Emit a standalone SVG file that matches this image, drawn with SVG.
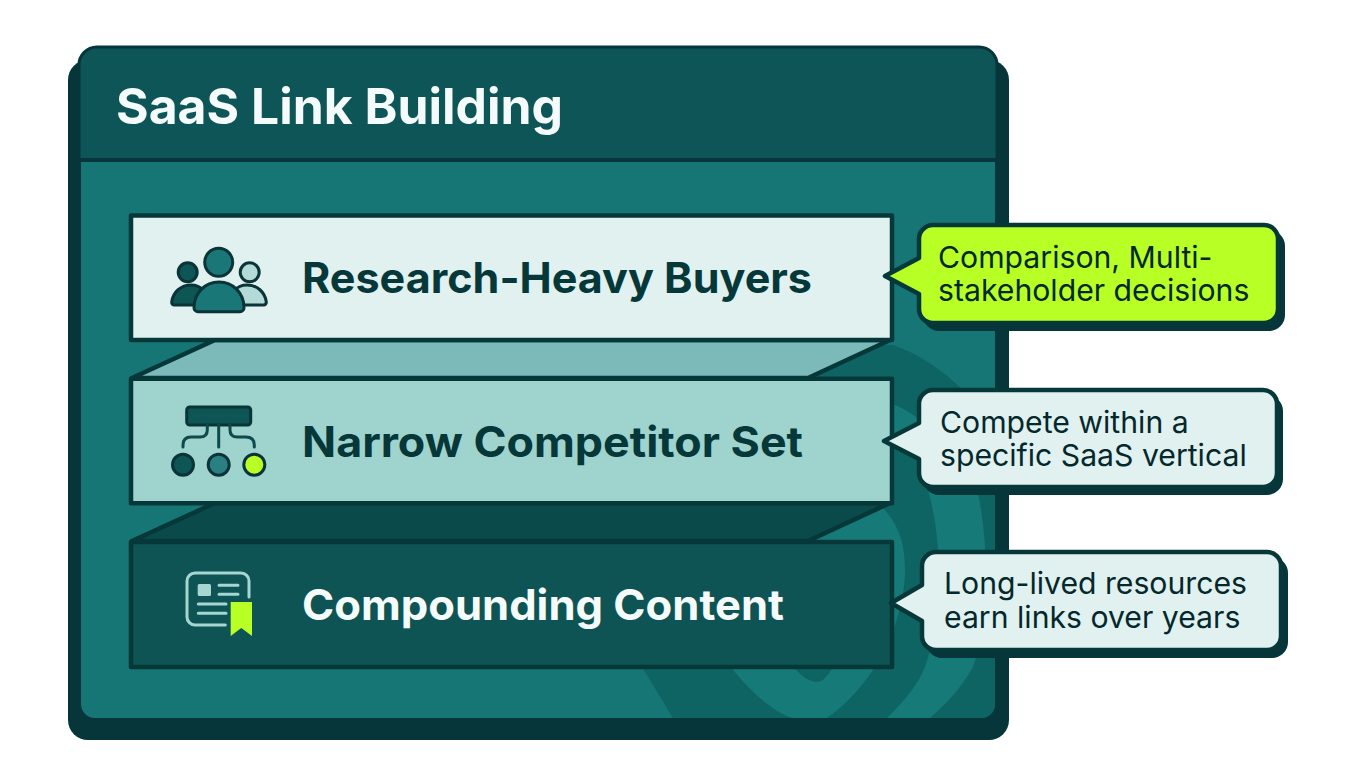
<svg xmlns="http://www.w3.org/2000/svg" width="1360" height="784" viewBox="0 0 1360 784">
<style>
text{font-family:Inter,"Liberation Sans",sans-serif}
.t{font-size:49.500px;font-weight:700;fill:#f4fbfa}
.l{font-size:42.500px;font-weight:700}
.c{font-size:30.200px;font-weight:400;fill:#04282b}
.s{stroke:#06383a;stroke-width:4.500;stroke-linejoin:round}
.i{stroke:#0a3437;stroke-width:3;stroke-linejoin:round}
.w{fill:none;stroke:#0c4a4c;stroke-width:3;stroke-linecap:round}
.p{stroke:#a5d6d2;stroke-width:3;fill:none;stroke-linecap:round}
.sh{fill:#06363a;stroke:#06363a;stroke-width:4;stroke-linejoin:round}
.dk{fill:#0e6463}
.lt{fill:#167a78}
</style>
<defs><clipPath id="b"><path d="M81 160H995V704a14 14 0 0 1-14 14H95a14 14 0 0 1-14-14Z"/></clipPath></defs>
<rect width="1360" height="784" fill="#fff"/>
<g id="panel">
<rect x="68" y="60" width="941" height="680" rx="20" fill="#06363a"/>
<path d="M79 66a18 18 0 0 1 18-19H979a18 18 0 0 1 18 19V160H79Z" fill="#0d5556" stroke="#06363a" stroke-width="3"/>
<path d="M81 160H995V704a14 14 0 0 1-14 14H95a14 14 0 0 1-14-14Z" fill="#157675"/>
<g clip-path="url(#b)">
<path class="dk" d="M893 345C930 358 965 385 1000 435V740H690L673 718 642 667 620 600V345Z"/>
<path class="lt" d="M925 480H975C990 540 990 620 973 667 960 690 945 705 930 718L925 730H880L887 718C905 700 918 685 925 667 942 620 945 540 925 480Z"/>
<path class="lt" d="M700 620C715 650 755 705 792 718L800 735H820L827 718C845 705 860 690 875 667 893 640 905 600 905 570 905 545 900 525 880 505H700Z"/>
<path class="dk" d="M780 640C790 668 805 682 817 682 825 682 835 668 845 640Z"/>
<path class="lt" d="M885 402C900 405 915 415 925 425V465C915 450 900 440 885 432Z"/>
</g>
<path d="M80 160H996" stroke="#06363a" stroke-width="4"/>
<text class="t" x="116" y="124" textLength="447" lengthAdjust="spacingAndGlyphs">SaaS Link Building</text>
</g>
<g id="connectors">
<path class="s" d="M215 340H890L808 378H132Z" fill="#7bbab8"/>
<path class="s" d="M215 503H890L808 541H132Z" fill="#0b4a4b"/>
</g>
<g id="bar1">
<rect class="s" x="131" y="215.600" width="761" height="124.400" fill="#e0f1f0"/>
<circle class="i" cx="218.700" cy="262.300" r="14" fill="#1a7777"/>
<circle class="i" cx="187.700" cy="272.300" r="9.500" fill="#0e5556"/>
<circle class="i" cx="249.700" cy="272.300" r="9.500" fill="#b3dad7"/>
<path class="i" d="M174 305a3 3 0 0 1-2.300-3C173 292 181 285 191 285c10 0 17 7 19 20Z" fill="#0e5556"/>
<path class="i" d="M264 305a3 3 0 0 0 2.300-3C265 292 257 285 247 285c-10 0-17 7-19 20Z" fill="#b3dad7"/>
<path class="i" d="M198 311.700a4 4 0 0 1-4-4C194 293 205 282 219 282s25 11 25 25.700a4 4 0 0 1-4 4Z" fill="#1a7777"/>
<text class="l" x="302" y="293" fill="#06383a" textLength="510" lengthAdjust="spacingAndGlyphs">Research-Heavy Buyers</text>
</g>
<g id="bar2">
<rect class="s" x="131" y="378.700" width="761" height="124.600" fill="#9fd3ce"/>
<rect class="i" x="186.700" y="407" width="64" height="18" rx="3" fill="#0e5556"/>
<path class="w" d="M218.700 425V447M207.300 425V430Q207.300 437 200 437H191Q183 437 183 445V447M230 425V430Q230 437 237.300 437H246Q254.300 437 254.300 445V447"/>
<circle class="i" cx="183" cy="464.700" r="10.500" fill="#0e5556"/>
<circle class="i" cx="218.700" cy="464.700" r="10.500" fill="#2a7f82"/>
<circle class="i" cx="254.300" cy="464.700" r="10.500" fill="#b8ff26"/>
<text class="l" x="302" y="457" fill="#06383a" textLength="501" lengthAdjust="spacingAndGlyphs">Narrow Competitor Set</text>
</g>
<g id="bar3">
<rect class="s" x="131" y="542" width="761" height="125" fill="#0e5454"/>
<path class="p" d="M225.300 625H195a8 8 0 0 1-8-8V581a8 8 0 0 1 8-8H241a8 8 0 0 1 8 8V597"/>
<rect x="197.700" y="584" width="13.300" height="12" rx="1.500" fill="#a5d6d2"/>
<path class="p" d="M219 585.300H238M219 594.300H238M198.300 604H226M198.300 613.300H226"/>
<path d="M230.700 602H252V636L241.300 628 230.700 636Z" fill="#b8ff26"/>
<text class="l" x="302" y="620" fill="#f4fbfa" textLength="482" lengthAdjust="spacingAndGlyphs">Compounding Content</text>
</g>
<g id="callout1">
<rect class="sh" x="925" y="232" width="358" height="97" rx="14"/>
<path class="s" d="M933 225H1264a14 14 0 0 1 14 14V309a14 14 0 0 1-14 14H933a14 14 0 0 1-14-14V294L885 276 919 258V239a14 14 0 0 1 14-14Z" fill="#b8ff26"/>
<text class="c" x="938" y="268">Comparison, Multi-</text>
<text class="c" x="938" y="301">stakeholder decisions</text>
</g>
<g id="callout2">
<rect class="sh" x="925" y="397" width="356" height="96" rx="14"/>
<path class="s" d="M933 390H1263a14 14 0 0 1 14 14V473a14 14 0 0 1-14 14H933a14 14 0 0 1-14-14V459L884 441 919 423V404a14 14 0 0 1 14-14Z" fill="#e0f1f0"/>
<text class="c" x="940" y="433">Compete within a</text>
<text class="c" x="940" y="466">specific SaaS vertical</text>
</g>
<g id="callout3">
<rect class="sh" x="928" y="559" width="358" height="97" rx="14"/>
<path class="s" d="M936 552H1267a14 14 0 0 1 14 14V636a14 14 0 0 1-14 14H936a14 14 0 0 1-14-14V621L891 603 922 585V566a14 14 0 0 1 14-14Z" fill="#e0f1f0"/>
<text class="c" x="944" y="594">Long-lived resources</text>
<text class="c" x="944" y="628">earn links over years</text>
</g>
</svg>
